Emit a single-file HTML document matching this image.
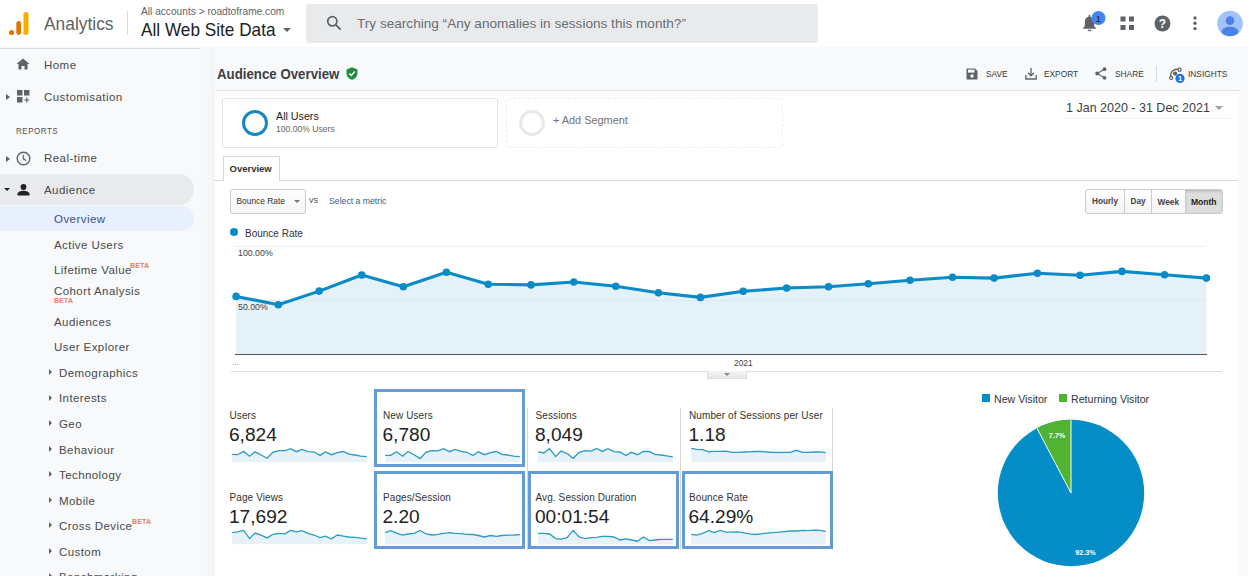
<!DOCTYPE html>
<html><head><meta charset="utf-8">
<style>
*{box-sizing:border-box;margin:0;padding:0}
html,body{width:1248px;height:576px;overflow:hidden;background:#f8f9fa;font-family:"Liberation Sans",sans-serif;color:#3c4043}
.a{position:absolute;white-space:nowrap}
#hdr{position:absolute;left:0;top:0;width:1248px;height:47px;background:#fff}
#side{position:absolute;left:0;top:48px;width:214px;height:528px;background:#f8f9fa}
#sideline{position:absolute;left:0;top:48px;width:200px;height:1px;background:#dadce0}
#sideshadow{position:absolute;left:203px;top:48px;width:12px;height:528px;background:linear-gradient(to right,rgba(0,0,0,0),rgba(0,0,0,0.018))}
#card{position:absolute;left:215px;top:90px;width:1024px;height:486px;background:#fff}
.nav{position:absolute;font-size:11.5px;color:#46494d;letter-spacing:0.45px}
.sub{position:absolute;font-size:11.5px;color:#46494d;letter-spacing:0.42px}
.beta{position:absolute;font-size:7px;font-weight:bold;color:#e0845e;letter-spacing:0.2px}
.tri{position:absolute;width:0;height:0;border-top:3px solid transparent;border-bottom:3px solid transparent;border-left:3px solid #5f6368}
.tb{position:absolute;font-size:9.7px;color:#34373b;transform:scaleX(0.86);transform-origin:0 0}
.tile{position:absolute;width:153px;height:78px}
.tl{position:absolute;font-size:10px;color:#333;letter-spacing:0.1px}
.tv{position:absolute;font-size:19.1px;color:#222}
.sel{position:absolute;border:3px solid #649bd8}
.vl{position:absolute;width:1px;background:#d6d6d6}
</style></head><body>
<div id="hdr"></div>
<div id="side"></div>
<div id="sideline"></div>
<div id="sideshadow"></div>

<!-- header -->
<svg class="a" style="left:8px;top:11px" width="22" height="25" viewBox="0 0 22 25">
  <rect x="15.5" y="1" width="5" height="23" rx="2.5" fill="#f9ab00"/>
  <rect x="8.3" y="10" width="4.8" height="14" rx="2.4" fill="#e37400"/>
  <circle cx="3.6" cy="21.5" r="2.6" fill="#e37400"/>
</svg>
<div class="a" style="left:44px;top:12.5px;font-size:18.6px;color:#5f6368;transform:scaleX(0.935);transform-origin:0 0">Analytics</div>
<div class="a" style="left:127px;top:11px;width:1px;height:24px;background:#dadce0"></div>
<div class="a" style="left:141px;top:5px;font-size:10.6px;color:#5f6368;transform:scaleX(0.96);transform-origin:0 0">All accounts &gt; roadtoframe.com</div>
<div class="a" style="left:141px;top:19px;font-size:18.6px;color:#202124;transform:scaleX(0.925);transform-origin:0 0">All Web Site Data</div>
<div class="a" style="left:283px;top:28px;width:0;height:0;border-left:4px solid transparent;border-right:4px solid transparent;border-top:4px solid #5f6368"></div>
<div class="a" style="left:306px;top:4px;width:512px;height:38.5px;background:#e9eaec;border-radius:3px"></div>
<svg class="a" style="left:326px;top:15px" width="16" height="16" viewBox="0 0 16 16">
  <circle cx="6.3" cy="6.3" r="4.6" fill="none" stroke="#5f6368" stroke-width="1.8"/>
  <line x1="9.6" y1="9.6" x2="14.6" y2="14.6" stroke="#5f6368" stroke-width="1.9"/>
</svg>
<div class="a" style="left:357px;top:16px;font-size:13.6px;color:#6a6e73">Try searching “Any anomalies in sessions this month?”</div>

<!-- right header icons -->
<svg class="a" style="left:1080px;top:10px" width="28" height="24" viewBox="0 0 28 24">
  <path d="M3 18.8 L3 18 L4.8 16.2 L4.8 12 C4.8 9 6.5 7.2 8.6 6.7 L8.6 6 C8.6 5.3 9 4.8 9.5 4.8 C10 4.8 10.4 5.3 10.4 6 L10.4 6.7 C12.5 7.2 14.2 9 14.2 12 L14.2 16.2 L16 18 L16 18.8 Z" fill="#5f6368"/>
  <rect x="7.8" y="19.8" width="3.4" height="1.3" fill="#5f6368"/>
  <circle cx="18.5" cy="8" r="7" fill="#4285f4"/>
  <text x="18.5" y="11.5" font-size="9.5" fill="#202124" text-anchor="middle" font-family="Liberation Sans">1</text>
</svg>
<svg class="a" style="left:1120px;top:16px" width="15" height="15" viewBox="0 0 15 15">
  <rect x="0.5" y="0.5" width="5" height="5" fill="#5f6368"/><rect x="9" y="0.5" width="5" height="5" fill="#5f6368"/>
  <rect x="0.5" y="9" width="5" height="5" fill="#5f6368"/><rect x="9" y="9" width="5" height="5" fill="#5f6368"/>
</svg>
<svg class="a" style="left:1154px;top:15px" width="17" height="17" viewBox="0 0 17 17">
  <circle cx="8.5" cy="8.5" r="8" fill="#5f6368"/>
  <text x="8.5" y="12.8" font-size="12" font-weight="bold" fill="#fff" text-anchor="middle" font-family="Liberation Sans">?</text>
</svg>
<svg class="a" style="left:1191px;top:16px" width="8" height="16" viewBox="0 0 8 16">
  <circle cx="4" cy="2" r="1.7" fill="#5f6368"/><circle cx="4" cy="7.3" r="1.7" fill="#5f6368"/><circle cx="4" cy="12.6" r="1.7" fill="#5f6368"/>
</svg>
<svg class="a" style="left:1216px;top:10px" width="28" height="28" viewBox="0 0 28 28">
  <defs><clipPath id="av"><circle cx="14" cy="14" r="13"/></clipPath></defs>
  <circle cx="14" cy="13.6" r="12.8" fill="#a1c2fa"/>
  <g clip-path="url(#av)">
    <circle cx="14" cy="10.6" r="4.3" fill="#4a80e8"/>
    <ellipse cx="14" cy="21.4" rx="8.4" ry="4.6" fill="#4a80e8"/>
  </g>
</svg>

<!-- sidebar -->
<svg class="a" style="left:16px;top:58px" width="14" height="12" viewBox="0 0 14 12">
  <path d="M7 0.5 L13.5 6 L11.5 6 L11.5 11.5 L8.5 11.5 L8.5 8 L5.5 8 L5.5 11.5 L2.5 11.5 L2.5 6 L0.5 6 Z" fill="#5f6368"/>
</svg>
<div class="nav" style="left:44px;top:59px">Home</div>
<div class="tri" style="left:6px;top:94px;border-left-width:4px"></div>
<svg class="a" style="left:17px;top:90px" width="13" height="13" viewBox="0 0 13 13">
  <rect x="0" y="0" width="5.5" height="5.5" fill="#5f6368"/><rect x="7" y="0" width="5.5" height="5.5" fill="#5f6368"/>
  <rect x="0" y="7" width="5.5" height="5.5" fill="#5f6368"/>
  <path d="M9.75 7.5 V12.5 M7.25 10 H12.25" stroke="#5f6368" stroke-width="1.2"/>
</svg>
<div class="nav" style="left:44px;top:91px">Customisation</div>
<div class="a" style="left:16px;top:124.5px;font-size:9.8px;color:#505458;letter-spacing:0.6px;transform:scaleX(0.82);transform-origin:0 0">REPORTS</div>

<div class="tri" style="left:6px;top:155.5px;border-left-width:4px"></div>
<svg class="a" style="left:16px;top:150.5px" width="15" height="15" viewBox="0 0 15 15">
  <circle cx="7.5" cy="7.5" r="6.3" fill="none" stroke="#5f6368" stroke-width="1.4"/>
  <path d="M7.3 3.8 V7.8 L10.2 9.6" fill="none" stroke="#5f6368" stroke-width="1.2"/>
</svg>
<div class="nav" style="left:44px;top:152px">Real-time</div>

<div class="a" style="left:0;top:174px;width:194px;height:31px;background:#e8eaed;border-radius:0 16px 16px 0"></div>
<div class="a" style="left:3.8px;top:188.4px;width:0;height:0;border-left:3.8px solid transparent;border-right:3.8px solid transparent;border-top:3.6px solid #202124"></div>
<svg class="a" style="left:17px;top:184px" width="13" height="12" viewBox="0 0 13 12">
  <circle cx="6.5" cy="3" r="2.9" fill="#202124"/>
  <path d="M0.5 11.5 V10 C0.5 8 4 6.8 6.5 6.8 C9 6.8 12.5 8 12.5 10 V11.5 Z" fill="#202124"/>
</svg>
<div class="nav" style="left:44px;top:184px">Audience</div>

<div class="a" style="left:0;top:206px;width:194px;height:25px;background:#e8f0fe;border-radius:0 13px 13px 0"></div>
<div class="sub" style="left:54px;top:213px;color:#3b4c95;letter-spacing:0.45px">Overview</div>
<div class="sub" style="left:54px;top:239px">Active Users</div>
<div class="sub" style="left:54px;top:264px">Lifetime Value</div>
<div class="beta" style="left:130px;top:262px">BETA</div>
<div class="sub" style="left:54px;top:285px">Cohort Analysis</div>
<div class="beta" style="left:54px;top:297px">BETA</div>
<div class="sub" style="left:54px;top:316px">Audiences</div>
<div class="sub" style="left:54px;top:341px">User Explorer</div>

<div class="tri" style="left:49px;top:369px"></div><div class="sub" style="left:59px;top:367px">Demographics</div>
<div class="tri" style="left:49px;top:395px"></div><div class="sub" style="left:59px;top:392px">Interests</div>
<div class="tri" style="left:49px;top:420px"></div><div class="sub" style="left:59px;top:418px">Geo</div>
<div class="tri" style="left:49px;top:446px"></div><div class="sub" style="left:59px;top:444px">Behaviour</div>
<div class="tri" style="left:49px;top:471px"></div><div class="sub" style="left:59px;top:469px">Technology</div>
<div class="tri" style="left:49px;top:497px"></div><div class="sub" style="left:59px;top:495px">Mobile</div>
<div class="tri" style="left:49px;top:522px"></div><div class="sub" style="left:59px;top:520px">Cross Device</div>
<div class="beta" style="left:132px;top:518px">BETA</div>
<div class="tri" style="left:49px;top:548px"></div><div class="sub" style="left:59px;top:546px">Custom</div>
<div class="tri" style="left:49px;top:573px"></div><div class="sub" style="left:59px;top:571px">Benchmarking</div>

<!-- MAIN -->
<div id="card"></div>
<div class="a" style="left:216px;top:90px;width:1024px;height:1px;background:#e0e0e0"></div>
<div class="a" style="left:216.5px;top:66px;font-size:14.2px;font-weight:bold;color:#3c4043;transform:scaleX(0.935);transform-origin:0 0">Audience Overview</div>
<svg class="a" style="left:346px;top:67px" width="12" height="13" viewBox="0 0 12 13">
  <path d="M6 0.3 L11.5 2.5 V6 C11.5 9.3 9.2 12 6 12.8 C2.8 12 0.5 9.3 0.5 6 V2.5 Z" fill="#1e8e3e"/>
  <path d="M3.2 6.5 L5.2 8.4 L8.8 4.6" fill="none" stroke="#fff" stroke-width="1.4"/>
</svg>

<!-- toolbar -->
<svg class="a" style="left:966px;top:68px" width="12" height="12" viewBox="0 0 12 12">
  <path d="M0.5 0.5 H9 L11.5 3 V11.5 H0.5 Z" fill="#5f6368"/>
  <rect x="2" y="1.6" width="6.5" height="3" fill="#f8f9fa"/>
  <circle cx="6" cy="8" r="1.7" fill="#f8f9fa"/>
</svg>
<div class="tb" style="left:985.5px;top:67.5px">SAVE</div>
<svg class="a" style="left:1025px;top:67px" width="12" height="13" viewBox="0 0 12 13">
  <path d="M6 1 V8.5 M3 5.8 L6 8.8 L9 5.8" fill="none" stroke="#5f6368" stroke-width="1.3"/>
  <path d="M0.8 8 V12 H11.2 V8" fill="none" stroke="#5f6368" stroke-width="1.3"/>
</svg>
<div class="tb" style="left:1044px;top:67.5px">EXPORT</div>
<svg class="a" style="left:1095px;top:67px" width="12" height="13" viewBox="0 0 12 13">
  <circle cx="9.5" cy="2.2" r="1.9" fill="#5f6368"/><circle cx="2.2" cy="6.5" r="1.9" fill="#5f6368"/><circle cx="9.5" cy="10.8" r="1.9" fill="#5f6368"/>
  <path d="M9.5 2.2 L2.2 6.5 L9.5 10.8" fill="none" stroke="#5f6368" stroke-width="1.1"/>
</svg>
<div class="tb" style="left:1115px;top:67.5px">SHARE</div>
<div class="a" style="left:1156px;top:66px;width:1px;height:16px;background:#dadce0"></div>
<svg class="a" style="left:1166px;top:62px" width="22" height="22" viewBox="0 0 22 22">
  <path d="M5.3 15.6 A5.9 5.9 0 0 1 13.2 7.9" fill="none" stroke="#5f6368" stroke-width="1.3"/>
  <circle cx="13.6" cy="7.8" r="1.6" fill="#f8f9fa" stroke="#5f6368" stroke-width="1.2"/>
  <circle cx="5.2" cy="15.9" r="1.5" fill="#f8f9fa" stroke="#5f6368" stroke-width="1.2"/>
  <circle cx="9.1" cy="11.6" r="2.1" fill="#5f6368"/>
  <circle cx="14" cy="16.4" r="4.6" fill="#1a73e8"/>
  <text x="14" y="19.2" font-size="7.5" font-weight="bold" fill="#fff" text-anchor="middle" font-family="Liberation Sans">1</text>
</svg>
<div class="tb" style="left:1188px;top:67.5px">INSIGHTS</div>

<!-- date -->
<div class="a" style="left:1066px;top:99.5px;font-size:12.9px;color:#3c4043;transform:scaleX(0.97);transform-origin:0 0">1 Jan 2020 - 31 Dec 2021</div>
<div class="a" style="left:1215px;top:106px;width:0;height:0;border-left:4.5px solid transparent;border-right:4.5px solid transparent;border-top:4.5px solid #9aa0a6"></div>
<div class="a" style="left:1063px;top:118px;width:167px;height:1px;background:#f0f0f0"></div>

<!-- segments -->
<div class="a" style="left:222px;top:98px;width:276px;height:49.5px;border:1px solid #e3e3e3;border-radius:2px;background:#fff"></div>
<div class="a" style="left:242px;top:110px;width:26px;height:26px;border:3.3px solid #1787bf;border-radius:50%"></div>
<div class="a" style="left:276px;top:110px;font-size:10.7px;color:#222">All Users</div>
<div class="a" style="left:276px;top:123.5px;font-size:8.6px;color:#666">100.00% Users</div>
<div class="a" style="left:506px;top:98px;width:277px;height:49.5px;border:1px dashed #ededed;border-radius:2px;background:#fff"></div>
<div class="a" style="left:519px;top:110px;width:26px;height:26px;border:3px solid #e9e9e9;border-radius:50%"></div>
<div class="a" style="left:553px;top:114px;font-size:10.9px;color:#727272">+ Add Segment</div>

<!-- tab -->
<div class="a" style="left:214px;top:180px;width:1024px;height:1px;background:#d8d8d8"></div>
<div class="a" style="left:222.5px;top:156px;width:57.5px;height:25px;border:1px solid #d8d8d8;border-bottom:none;background:#fff"></div>
<div class="a" style="left:229.5px;top:163px;font-size:9.5px;font-weight:bold;color:#333">Overview</div>

<!-- metric selector -->
<div class="a" style="left:230px;top:189px;width:76px;height:24.5px;border:1px solid #ccc;border-radius:2px;background:linear-gradient(#fff,#f3f3f3)"></div>
<div class="a" style="left:236.5px;top:195.5px;font-size:8.4px;color:#333">Bounce Rate</div>
<div class="a" style="left:294px;top:200px;width:0;height:0;border-left:3px solid transparent;border-right:3px solid transparent;border-top:3px solid #777"></div>
<div class="a" style="left:309px;top:195px;font-size:9px;color:#555">vs</div>
<div class="a" style="left:329px;top:196px;font-size:8.7px;color:#3a5a8c">Select a metric</div>

<!-- time buttons -->
<div class="a" style="left:1085px;top:189px;width:138px;height:25px;border:1px solid #ccc;border-radius:3px;background:linear-gradient(#fff,#f3f3f3);overflow:hidden">
  <div class="a" style="left:99px;top:0;width:38px;height:23px;background:#ddd;box-shadow:inset 0 1px 3px rgba(0,0,0,0.2)"></div>
  <div class="a" style="left:37.5px;top:0;width:1px;height:23px;background:#ccc"></div>
  <div class="a" style="left:64.5px;top:0;width:1px;height:23px;background:#ccc"></div>
  <div class="a" style="left:98.5px;top:0;width:1px;height:23px;background:#ccc"></div>
</div>
<div class="a" style="left:1092px;top:197px;font-size:8.2px;font-weight:bold;color:#444">Hourly</div>
<div class="a" style="left:1130.5px;top:197px;font-size:8.2px;font-weight:bold;color:#444">Day</div>
<div class="a" style="left:1157.5px;top:197px;font-size:8.3px;font-weight:bold;color:#444">Week</div>
<div class="a" style="left:1191px;top:196.5px;font-size:8.5px;font-weight:bold;color:#222">Month</div>

<!-- chart legend -->
<div class="a" style="left:230px;top:228px;width:8px;height:8px;border-radius:50%;background:#058dc7"></div>
<div class="a" style="left:245px;top:228px;font-size:10px;color:#333">Bounce Rate</div>

<!-- CHART -->
<svg class="a" style="left:0;top:0" width="1248" height="576" id="chart"><line x1="235" y1="246.5" x2="1206" y2="246.5" stroke="#eeeeee" stroke-width="1"/><polygon points="236,354 236.1,296.4 278.3,304.7 319.2,291.1 361.7,275.0 403.3,286.7 446.4,272.2 488.2,284.2 531.0,284.9 573.8,282.0 615.8,286.3 658.4,292.8 700.4,297.4 743.2,291.3 786.6,288.0 828.5,286.8 868.3,283.7 910.0,280.3 952.5,277.2 994.1,278.1 1037.4,273.2 1080.0,275.2 1122.0,271.4 1164.6,274.8 1206.4,278.1 1206.4,354" fill="#e5f1f9"/><line x1="236" y1="300.5" x2="1206" y2="300.5" stroke="#dde9f0" stroke-width="1"/><line x1="235" y1="354.5" x2="1207" y2="354.5" stroke="#555" stroke-width="1"/><polyline points="236.1,296.4 278.3,304.7 319.2,291.1 361.7,275.0 403.3,286.7 446.4,272.2 488.2,284.2 531.0,284.9 573.8,282.0 615.8,286.3 658.4,292.8 700.4,297.4 743.2,291.3 786.6,288.0 828.5,286.8 868.3,283.7 910.0,280.3 952.5,277.2 994.1,278.1 1037.4,273.2 1080.0,275.2 1122.0,271.4 1164.6,274.8 1206.4,278.1" fill="none" stroke="#0a8bc8" stroke-width="3.1" stroke-linejoin="round"/><circle cx="236.1" cy="296.4" r="3.8" fill="#0a8bc8"/><circle cx="278.3" cy="304.7" r="3.8" fill="#0a8bc8"/><circle cx="319.2" cy="291.1" r="3.8" fill="#0a8bc8"/><circle cx="361.7" cy="275.0" r="3.8" fill="#0a8bc8"/><circle cx="403.3" cy="286.7" r="3.8" fill="#0a8bc8"/><circle cx="446.4" cy="272.2" r="3.8" fill="#0a8bc8"/><circle cx="488.2" cy="284.2" r="3.8" fill="#0a8bc8"/><circle cx="531.0" cy="284.9" r="3.8" fill="#0a8bc8"/><circle cx="573.8" cy="282.0" r="3.8" fill="#0a8bc8"/><circle cx="615.8" cy="286.3" r="3.8" fill="#0a8bc8"/><circle cx="658.4" cy="292.8" r="3.8" fill="#0a8bc8"/><circle cx="700.4" cy="297.4" r="3.8" fill="#0a8bc8"/><circle cx="743.2" cy="291.3" r="3.8" fill="#0a8bc8"/><circle cx="786.6" cy="288.0" r="3.8" fill="#0a8bc8"/><circle cx="828.5" cy="286.8" r="3.8" fill="#0a8bc8"/><circle cx="868.3" cy="283.7" r="3.8" fill="#0a8bc8"/><circle cx="910.0" cy="280.3" r="3.8" fill="#0a8bc8"/><circle cx="952.5" cy="277.2" r="3.8" fill="#0a8bc8"/><circle cx="994.1" cy="278.1" r="3.8" fill="#0a8bc8"/><circle cx="1037.4" cy="273.2" r="3.8" fill="#0a8bc8"/><circle cx="1080.0" cy="275.2" r="3.8" fill="#0a8bc8"/><circle cx="1122.0" cy="271.4" r="3.8" fill="#0a8bc8"/><circle cx="1164.6" cy="274.8" r="3.8" fill="#0a8bc8"/><circle cx="1206.4" cy="278.1" r="3.8" fill="#0a8bc8"/></svg>

<div class="a" style="left:238px;top:248px;font-size:8.8px;color:#444">100.00%</div>
<div class="a" style="left:238px;top:302px;font-size:8.8px;color:#444">50.00%</div>
<div class="a" style="left:734px;top:357px;font-size:9.8px;color:#444;transform:scaleX(0.86);transform-origin:0 0">2021</div>
<div class="a" style="left:232px;top:358px;font-size:8px;color:#777">...</div>
<div class="a" style="left:231px;top:371px;width:991px;height:1px;background:#ddd"></div>
<div class="a" style="left:707px;top:371px;width:40px;height:8px;border:1px solid #ddd;border-top:none;background:linear-gradient(#f5f5f5,#e8e8e8)"></div>
<div class="a" style="left:724px;top:373px;width:0;height:0;border-left:3px solid transparent;border-right:3px solid transparent;border-top:3px solid #888"></div>

<!-- TILES -->
<div id="tiles"><div class="vl" style="left:527px;top:408px;height:142px"></div><div class="vl" style="left:680px;top:408px;height:142px"></div><div class="vl" style="left:832px;top:408px;height:142px"></div><div class="tl" style="left:229.5px;top:410px">Users</div><div class="tv" style="left:229.0px;top:424px">6,824</div><div class="sel" style="left:374px;top:389px;width:151px;height:78px"></div><div class="tl" style="left:383px;top:410px">New Users</div><div class="tv" style="left:382.5px;top:424px">6,780</div><div class="tl" style="left:535.5px;top:410px">Sessions</div><div class="tv" style="left:535.0px;top:424px">8,049</div><div class="tl" style="left:689px;top:410px">Number of Sessions per User</div><div class="tv" style="left:688.5px;top:424px">1.18</div><div class="tl" style="left:229.5px;top:492px">Page Views</div><div class="tv" style="left:229.0px;top:506px">17,692</div><div class="sel" style="left:374px;top:471px;width:151px;height:78px"></div><div class="tl" style="left:383px;top:492px">Pages/Session</div><div class="tv" style="left:382.5px;top:506px">2.20</div><div class="sel" style="left:528px;top:471px;width:151px;height:78px"></div><div class="tl" style="left:535.5px;top:492px">Avg. Session Duration</div><div class="tv" style="left:535.0px;top:506px">00:01:54</div><div class="sel" style="left:682px;top:471px;width:151px;height:78px"></div><div class="tl" style="left:689px;top:492px">Bounce Rate</div><div class="tv" style="left:688.5px;top:506px">64.29%</div><svg class="a" style="left:0;top:0" width="1248" height="576"><polygon points="232.2,462.2 232.2,454.4 237.6,454.7 243.6,451.4 249.6,456.2 255.0,451.8 261.1,455.0 267.1,458.3 273.1,452.0 279.1,450.6 285.1,450.6 290.5,448.7 296.5,451.7 301.9,449.4 307.9,451.7 313.9,451.8 320.0,455.4 325.4,452.0 331.4,454.7 337.4,452.6 343.4,451.5 348.8,454.2 354.8,455.0 360.8,456.2 366.8,456.6 366.8,462.2" fill="#e6f2f8"/><polyline points="232.2,454.4 237.6,454.7 243.6,451.4 249.6,456.2 255.0,451.8 261.1,455.0 267.1,458.3 273.1,452.0 279.1,450.6 285.1,450.6 290.5,448.7 296.5,451.7 301.9,449.4 307.9,451.7 313.9,451.8 320.0,455.4 325.4,452.0 331.4,454.7 337.4,452.6 343.4,451.5 348.8,454.2 354.8,455.0 360.8,456.2 366.8,456.6" fill="none" stroke="#2a9ac6" stroke-width="1.3"/><polygon points="385.2,462.2 385.2,455.4 390.6,455.4 396.6,451.8 402.6,456.2 408.0,451.5 414.1,454.7 420.1,458.6 426.1,452.0 432.1,450.6 438.1,450.8 443.5,448.7 449.5,451.7 454.9,449.4 460.9,451.4 466.9,452.3 473.0,455.6 478.4,451.8 484.4,454.7 490.4,452.6 496.4,451.5 501.8,454.4 507.8,455.0 513.8,456.2 519.8,456.6 519.8,462.2" fill="#e6f2f8"/><polyline points="385.2,455.4 390.6,455.4 396.6,451.8 402.6,456.2 408.0,451.5 414.1,454.7 420.1,458.6 426.1,452.0 432.1,450.6 438.1,450.8 443.5,448.7 449.5,451.7 454.9,449.4 460.9,451.4 466.9,452.3 473.0,455.6 478.4,451.8 484.4,454.7 490.4,452.6 496.4,451.5 501.8,454.4 507.8,455.0 513.8,456.2 519.8,456.6" fill="none" stroke="#2a9ac6" stroke-width="1.3"/><polygon points="538.2,462.2 538.2,451.8 543.6,453.0 549.6,448.7 555.6,456.6 561.0,451.1 567.1,453.5 573.1,458.3 579.1,452.3 585.1,450.6 591.1,451.1 596.5,448.4 602.5,451.4 607.9,448.7 613.9,451.7 619.9,452.0 626.0,455.6 631.4,452.3 637.4,454.7 643.4,451.4 649.4,451.5 654.8,454.4 660.8,455.0 666.8,455.9 672.8,456.8 672.8,462.2" fill="#e6f2f8"/><polyline points="538.2,451.8 543.6,453.0 549.6,448.7 555.6,456.6 561.0,451.1 567.1,453.5 573.1,458.3 579.1,452.3 585.1,450.6 591.1,451.1 596.5,448.4 602.5,451.4 607.9,448.7 613.9,451.7 619.9,452.0 626.0,455.6 631.4,452.3 637.4,454.7 643.4,451.4 649.4,451.5 654.8,454.4 660.8,455.0 666.8,455.9 672.8,456.8" fill="none" stroke="#2a9ac6" stroke-width="1.3"/><polygon points="691.2,462.2 691.2,448.4 696.6,449.4 702.6,449.6 708.6,451.8 714.0,451.4 720.1,451.4 726.1,451.1 732.1,452.3 738.1,452.3 744.1,452.0 749.5,451.8 755.5,451.5 760.9,451.5 766.9,452.0 772.9,452.3 779.0,452.5 784.4,452.3 790.4,452.3 796.4,450.3 802.4,452.3 807.8,452.3 813.8,452.0 819.8,451.8 825.8,452.6 825.8,462.2" fill="#e6f2f8"/><polyline points="691.2,448.4 696.6,449.4 702.6,449.6 708.6,451.8 714.0,451.4 720.1,451.4 726.1,451.1 732.1,452.3 738.1,452.3 744.1,452.0 749.5,451.8 755.5,451.5 760.9,451.5 766.9,452.0 772.9,452.3 779.0,452.5 784.4,452.3 790.4,452.3 796.4,450.3 802.4,452.3 807.8,452.3 813.8,452.0 819.8,451.8 825.8,452.6" fill="none" stroke="#2a9ac6" stroke-width="1.3"/><polygon points="232.2,544.2 232.2,532.6 237.6,531.9 243.6,530.4 249.6,538.6 255.0,533.1 261.1,535.2 267.1,537.9 273.1,534.3 279.1,533.4 285.1,533.8 290.5,530.4 296.5,531.9 301.9,530.7 307.9,533.4 313.9,535.0 320.0,537.6 325.4,536.2 331.4,538.8 337.4,535.0 343.4,536.2 348.8,537.0 354.8,537.4 360.8,538.2 366.8,538.8 366.8,544.2" fill="#e6f2f8"/><polyline points="232.2,532.6 237.6,531.9 243.6,530.4 249.6,538.6 255.0,533.1 261.1,535.2 267.1,537.9 273.1,534.3 279.1,533.4 285.1,533.8 290.5,530.4 296.5,531.9 301.9,530.7 307.9,533.4 313.9,535.0 320.0,537.6 325.4,536.2 331.4,538.8 337.4,535.0 343.4,536.2 348.8,537.0 354.8,537.4 360.8,538.2 366.8,538.8" fill="none" stroke="#2a9ac6" stroke-width="1.3"/><polygon points="385.2,544.2 385.2,532.6 390.6,530.7 396.6,533.1 402.6,535.2 408.0,534.0 414.1,533.4 420.1,530.4 426.1,534.0 432.1,535.0 438.1,534.3 443.5,533.4 449.5,532.6 454.9,533.4 460.9,533.7 466.9,534.3 473.0,534.5 478.4,535.5 484.4,537.0 490.4,535.5 496.4,536.4 501.8,535.5 507.8,535.2 513.8,535.2 519.8,534.5 519.8,544.2" fill="#e6f2f8"/><polyline points="385.2,532.6 390.6,530.7 396.6,533.1 402.6,535.2 408.0,534.0 414.1,533.4 420.1,530.4 426.1,534.0 432.1,535.0 438.1,534.3 443.5,533.4 449.5,532.6 454.9,533.4 460.9,533.7 466.9,534.3 473.0,534.5 478.4,535.5 484.4,537.0 490.4,535.5 496.4,536.4 501.8,535.5 507.8,535.2 513.8,535.2 519.8,534.5" fill="none" stroke="#2a9ac6" stroke-width="1.3"/><polygon points="538.2,544.2 538.2,533.4 543.6,533.4 549.6,534.0 555.6,538.6 561.0,539.1 567.1,537.6 573.1,530.4 579.1,537.0 585.1,538.6 591.1,537.6 596.5,537.4 602.5,536.4 607.9,536.4 613.9,537.0 619.9,540.0 626.0,538.8 631.4,540.0 637.4,541.2 643.4,537.0 649.4,540.6 654.8,540.0 660.8,539.4 666.8,539.4 672.8,539.4 672.8,544.2" fill="#e6f2f8"/><polyline points="538.2,533.4 543.6,533.4 549.6,534.0 555.6,538.6 561.0,539.1 567.1,537.6 573.1,530.4 579.1,537.0 585.1,538.6 591.1,537.6 596.5,537.4 602.5,536.4 607.9,536.4 613.9,537.0 619.9,540.0 626.0,538.8 631.4,540.0 637.4,541.2 643.4,537.0 649.4,540.6 654.8,540.0 660.8,539.4 666.8,539.4 672.8,539.4" fill="none" stroke="#2a9ac6" stroke-width="1.3"/><polygon points="691.2,544.2 691.2,534.3 696.6,535.2 702.6,533.4 708.6,530.7 714.0,532.6 720.1,530.4 726.1,532.2 732.1,532.2 738.1,531.9 744.1,532.8 749.5,533.8 755.5,534.5 760.9,533.8 766.9,533.1 772.9,532.6 779.0,532.2 784.4,531.6 790.4,531.0 796.4,531.0 802.4,530.4 807.8,530.7 813.8,530.2 819.8,530.4 825.8,531.4 825.8,544.2" fill="#e6f2f8"/><polyline points="691.2,534.3 696.6,535.2 702.6,533.4 708.6,530.7 714.0,532.6 720.1,530.4 726.1,532.2 732.1,532.2 738.1,531.9 744.1,532.8 749.5,533.8 755.5,534.5 760.9,533.8 766.9,533.1 772.9,532.6 779.0,532.2 784.4,531.6 790.4,531.0 796.4,531.0 802.4,530.4 807.8,530.7 813.8,530.2 819.8,530.4 825.8,531.4" fill="none" stroke="#2a9ac6" stroke-width="1.3"/></svg></div><!--endtiles-->

<!-- PIE -->
<div class="a" style="left:982px;top:394px;width:8px;height:8px;background:#058dc7"></div>
<div class="a" style="left:994px;top:392.5px;font-size:10.6px;color:#333">New Visitor</div>
<div class="a" style="left:1059px;top:394px;width:8px;height:8px;background:#50b432"></div>
<div class="a" style="left:1071px;top:392.5px;font-size:10.6px;color:#333">Returning Visitor</div>
<svg class="a" style="left:990px;top:412px" width="162" height="162" viewBox="0 0 162 162" id="pie"><circle cx="81" cy="81" r="73.2" fill="#058dc7"/><path d="M81,81 L81,7.799999999999997 A73.2,73.2 0 0,0 46.95,16.20 Z" fill="#50b432"/><path d="M46.95,16.20 L81,81 L81,7.799999999999997" fill="none" stroke="#fff" stroke-width="1"/><text x="67" y="25.5" font-size="7.2" font-weight="bold" fill="#fff" text-anchor="middle" font-family="Liberation Sans">7.7%</text><text x="95.5" y="143" font-size="7.2" font-weight="bold" fill="#fff" text-anchor="middle" font-family="Liberation Sans">92.3%</text></svg>
</body></html>
